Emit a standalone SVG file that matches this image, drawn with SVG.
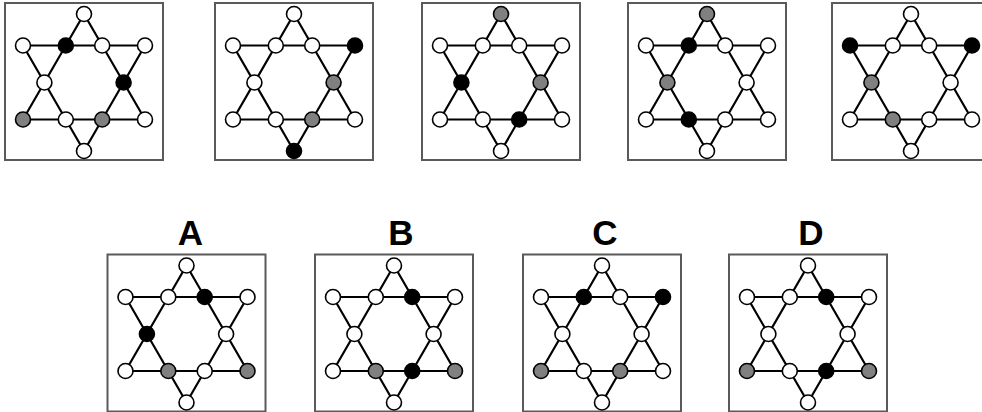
<svg xmlns="http://www.w3.org/2000/svg" xmlns:xlink="http://www.w3.org/1999/xlink" width="982" height="412" viewBox="0 0 982 412">
<style>
.frame{fill:#fff;stroke:#5a5a5a;stroke-width:2}
.edge{fill:none;stroke:#000;stroke-width:2.2;stroke-linejoin:round}
.w{fill:#fff;stroke:#000;stroke-width:1.6}
.k{fill:#000;stroke:#000;stroke-width:1.6}
.g{fill:#808080;stroke:#000;stroke-width:1.6}
.lbl{font-family:"Liberation Sans",Arial,sans-serif;font-weight:bold;font-size:35px;text-anchor:middle;fill:#000}
</style>
<defs>
<g id="star">
<polygon class="edge" points="0,-68.5 -61,37 61,37"/>
<polygon class="edge" points="-61,-37 61,-37 0,68.5"/>
</g>
</defs>
<rect width="982" height="412" fill="#fff"/>
<g id="connectors"/>

<!-- Top row -->
<g id="p1">
<rect class="frame" x="5" y="3" width="158" height="157"/>
<g transform="translate(84,82.5)">
<use xlink:href="#star" href="#star"/>
<circle class="w" cx="0" cy="-68.5" r="7.5"/>
<circle class="w" cx="-61" cy="-37" r="7.5"/>
<circle class="k" cx="-18.2" cy="-37" r="7.5"/>
<circle class="w" cx="18.2" cy="-37" r="7.5"/>
<circle class="w" cx="61" cy="-37" r="7.5"/>
<circle class="w" cx="-39.6" cy="0" r="7.5"/>
<circle class="k" cx="39.6" cy="0" r="7.5"/>
<circle class="g" cx="-61" cy="37" r="7.5"/>
<circle class="w" cx="-18.2" cy="37" r="7.5"/>
<circle class="g" cx="18.2" cy="37" r="7.5"/>
<circle class="w" cx="61" cy="37" r="7.5"/>
<circle class="w" cx="0" cy="68.5" r="7.5"/>
</g>
</g>

<g id="p2">
<rect class="frame" x="215" y="3" width="158" height="157"/>
<g transform="translate(294,82.5)">
<use xlink:href="#star" href="#star"/>
<circle class="w" cx="0" cy="-68.5" r="7.5"/>
<circle class="w" cx="-61" cy="-37" r="7.5"/>
<circle class="w" cx="-18.2" cy="-37" r="7.5"/>
<circle class="w" cx="18.2" cy="-37" r="7.5"/>
<circle class="k" cx="61" cy="-37" r="7.5"/>
<circle class="w" cx="-39.6" cy="0" r="7.5"/>
<circle class="g" cx="39.6" cy="0" r="7.5"/>
<circle class="w" cx="-61" cy="37" r="7.5"/>
<circle class="w" cx="-18.2" cy="37" r="7.5"/>
<circle class="g" cx="18.2" cy="37" r="7.5"/>
<circle class="w" cx="61" cy="37" r="7.5"/>
<circle class="k" cx="0" cy="68.5" r="7.5"/>
</g>
</g>

<g id="p3">
<rect class="frame" x="422" y="3" width="158" height="157"/>
<g transform="translate(501,82.5)">
<use xlink:href="#star" href="#star"/>
<circle class="g" cx="0" cy="-68.5" r="7.5"/>
<circle class="w" cx="-61" cy="-37" r="7.5"/>
<circle class="w" cx="-18.2" cy="-37" r="7.5"/>
<circle class="w" cx="18.2" cy="-37" r="7.5"/>
<circle class="w" cx="61" cy="-37" r="7.5"/>
<circle class="k" cx="-39.6" cy="0" r="7.5"/>
<circle class="g" cx="39.6" cy="0" r="7.5"/>
<circle class="w" cx="-61" cy="37" r="7.5"/>
<circle class="w" cx="-18.2" cy="37" r="7.5"/>
<circle class="k" cx="18.2" cy="37" r="7.5"/>
<circle class="w" cx="61" cy="37" r="7.5"/>
<circle class="w" cx="0" cy="68.5" r="7.5"/>
</g>
</g>

<g id="p4">
<rect class="frame" x="628" y="3" width="158" height="157"/>
<g transform="translate(707,82.5)">
<use xlink:href="#star" href="#star"/>
<circle class="g" cx="0" cy="-68.5" r="7.5"/>
<circle class="w" cx="-61" cy="-37" r="7.5"/>
<circle class="k" cx="-18.2" cy="-37" r="7.5"/>
<circle class="w" cx="18.2" cy="-37" r="7.5"/>
<circle class="w" cx="61" cy="-37" r="7.5"/>
<circle class="g" cx="-39.6" cy="0" r="7.5"/>
<circle class="w" cx="39.6" cy="0" r="7.5"/>
<circle class="w" cx="-61" cy="37" r="7.5"/>
<circle class="k" cx="-18.2" cy="37" r="7.5"/>
<circle class="w" cx="18.2" cy="37" r="7.5"/>
<circle class="w" cx="61" cy="37" r="7.5"/>
<circle class="w" cx="0" cy="68.5" r="7.5"/>
</g>
</g>

<g id="p5">
<rect class="frame" x="832" y="3" width="158" height="157"/>
<g transform="translate(911,82.5)">
<use xlink:href="#star" href="#star"/>
<circle class="w" cx="0" cy="-68.5" r="7.5"/>
<circle class="k" cx="-61" cy="-37" r="7.5"/>
<circle class="w" cx="-18.2" cy="-37" r="7.5"/>
<circle class="w" cx="18.2" cy="-37" r="7.5"/>
<circle class="k" cx="61" cy="-37" r="7.5"/>
<circle class="g" cx="-39.6" cy="0" r="7.5"/>
<circle class="w" cx="39.6" cy="0" r="7.5"/>
<circle class="w" cx="-61" cy="37" r="7.5"/>
<circle class="g" cx="-18.2" cy="37" r="7.5"/>
<circle class="w" cx="18.2" cy="37" r="7.5"/>
<circle class="w" cx="61" cy="37" r="7.5"/>
<circle class="w" cx="0" cy="68.5" r="7.5"/>
</g>
</g>

<!-- Bottom row: options -->
<g id="optA">
<text class="lbl" x="190.5" y="245">A</text>
<rect class="frame" x="107.5" y="254.5" width="158" height="157"/>
<g transform="translate(186.5,334)">
<use xlink:href="#star" href="#star"/>
<circle class="w" cx="0" cy="-68.5" r="7.5"/>
<circle class="w" cx="-61" cy="-37" r="7.5"/>
<circle class="w" cx="-18.2" cy="-37" r="7.5"/>
<circle class="k" cx="18.2" cy="-37" r="7.5"/>
<circle class="w" cx="61" cy="-37" r="7.5"/>
<circle class="k" cx="-39.6" cy="0" r="7.5"/>
<circle class="w" cx="39.6" cy="0" r="7.5"/>
<circle class="w" cx="-61" cy="37" r="7.5"/>
<circle class="g" cx="-18.2" cy="37" r="7.5"/>
<circle class="w" cx="18.2" cy="37" r="7.5"/>
<circle class="g" cx="61" cy="37" r="7.5"/>
<circle class="w" cx="0" cy="68.5" r="7.5"/>
</g>
</g>

<g id="optB">
<text class="lbl" x="401" y="245">B</text>
<rect class="frame" x="315" y="254.5" width="158" height="157"/>
<g transform="translate(394,334)">
<use xlink:href="#star" href="#star"/>
<circle class="w" cx="0" cy="-68.5" r="7.5"/>
<circle class="w" cx="-61" cy="-37" r="7.5"/>
<circle class="w" cx="-18.2" cy="-37" r="7.5"/>
<circle class="k" cx="18.2" cy="-37" r="7.5"/>
<circle class="w" cx="61" cy="-37" r="7.5"/>
<circle class="w" cx="-39.6" cy="0" r="7.5"/>
<circle class="w" cx="39.6" cy="0" r="7.5"/>
<circle class="w" cx="-61" cy="37" r="7.5"/>
<circle class="g" cx="-18.2" cy="37" r="7.5"/>
<circle class="k" cx="18.2" cy="37" r="7.5"/>
<circle class="g" cx="61" cy="37" r="7.5"/>
<circle class="w" cx="0" cy="68.5" r="7.5"/>
</g>
</g>

<g id="optC">
<text class="lbl" x="605" y="245">C</text>
<rect class="frame" x="523" y="254.5" width="158" height="157"/>
<g transform="translate(602,334)">
<use xlink:href="#star" href="#star"/>
<circle class="w" cx="0" cy="-68.5" r="7.5"/>
<circle class="w" cx="-61" cy="-37" r="7.5"/>
<circle class="k" cx="-18.2" cy="-37" r="7.5"/>
<circle class="w" cx="18.2" cy="-37" r="7.5"/>
<circle class="k" cx="61" cy="-37" r="7.5"/>
<circle class="w" cx="-39.6" cy="0" r="7.5"/>
<circle class="w" cx="39.6" cy="0" r="7.5"/>
<circle class="g" cx="-61" cy="37" r="7.5"/>
<circle class="w" cx="-18.2" cy="37" r="7.5"/>
<circle class="g" cx="18.2" cy="37" r="7.5"/>
<circle class="w" cx="61" cy="37" r="7.5"/>
<circle class="w" cx="0" cy="68.5" r="7.5"/>
</g>
</g>

<g id="optD">
<text class="lbl" x="811" y="245">D</text>
<rect class="frame" x="729" y="254.5" width="158" height="157"/>
<g transform="translate(808,334)">
<use xlink:href="#star" href="#star"/>
<circle class="w" cx="0" cy="-68.5" r="7.5"/>
<circle class="w" cx="-61" cy="-37" r="7.5"/>
<circle class="w" cx="-18.2" cy="-37" r="7.5"/>
<circle class="k" cx="18.2" cy="-37" r="7.5"/>
<circle class="w" cx="61" cy="-37" r="7.5"/>
<circle class="w" cx="-39.6" cy="0" r="7.5"/>
<circle class="w" cx="39.6" cy="0" r="7.5"/>
<circle class="g" cx="-61" cy="37" r="7.5"/>
<circle class="w" cx="-18.2" cy="37" r="7.5"/>
<circle class="k" cx="18.2" cy="37" r="7.5"/>
<circle class="g" cx="61" cy="37" r="7.5"/>
<circle class="w" cx="0" cy="68.5" r="7.5"/>
</g>
</g>
</svg>
